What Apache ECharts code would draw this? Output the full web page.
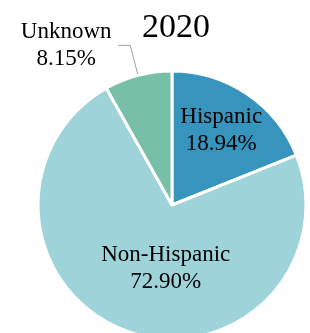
<!DOCTYPE html>
<html>
<head>
<meta charset="utf-8">
<script src="https://cdn.jsdelivr.net/npm/echarts@6/dist/echarts.min.js"></script>
<style>
html, body { margin: 0; padding: 0; background: #fff; }
#chart { width: 310px; height: 333px; }
</style>
</head>
<body>
<div id="chart"></div>
<script>
// 2020 ethnicity share
const categories = ['Hispanic', 'Non-Hispanic', 'Unknown'];
const shares = [18.94, 72.90, 8.15];
const sliceColors = ['#3794bc', '#9ed3d9', '#78bfa8'];
const chartTitle = '2020';

const myChart = echarts.init(document.getElementById('chart'));

const FONT = '"Liberation Serif", "Times New Roman", serif';

// nudges for the inside labels (px), by data index
const labelShift = [[10, -17], [17, -3], [0, 0]];

const option = {
    title: {
        text: chartTitle,
        left: 171,
        textAlign: 'center',
        top: 6,
        textStyle: { fontFamily: FONT, fontSize: 34, fontWeight: 'normal', color: '#000' }
    },
    series: [{
        type: 'pie',
        center: [172, 205],
        radius: 134,
        startAngle: 90,
        clockwise: true,
        silent: true,
        animation: false,
        itemStyle: { borderColor: '#fff', borderWidth: 3 },
        label: {
            show: true,
            position: 'outside',
            fontFamily: FONT,
            fontSize: 23,
            lineHeight: 27,
            color: '#000',
            formatter: p => '{a|' + p.name + '}\n{a|' + p.value.toFixed(2) + '%}',
            rich: { a: { fontFamily: FONT, fontSize: 23, lineHeight: 27, color: '#000', width: 94, align: 'center' } }
        },
        labelLine: {
            show: true,
            length: 31,
            length2: 12,
            lineStyle: { color: '#a0a0a0', width: 1 }
        },
        labelLayout: function (params) {
            const s = labelShift[params.dataIndex];
            return { dx: s[0], dy: s[1] };
        },
        data: categories.map((name, i) => ({
            name: name,
            value: shares[i],
            itemStyle: { color: sliceColors[i] },
            label: name === 'Unknown' ? {} : {
                position: 'inside',
                formatter: p => p.name + '\n' + p.value.toFixed(2) + '%',
                rich: {}
            },
            labelLine: { show: name === 'Unknown' }
        }))
    }]
};

myChart.setOption(option);
window.addEventListener('resize', function () {
    myChart.resize();
});
</script>
</body>
</html>
